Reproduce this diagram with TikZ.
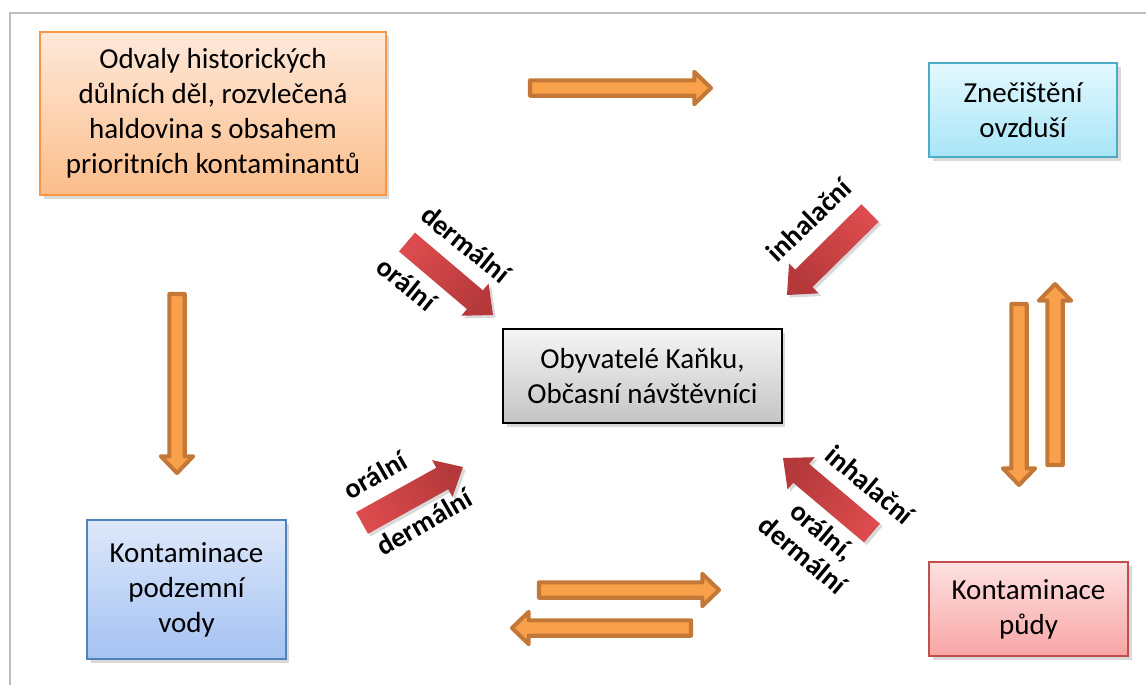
\documentclass[tikz,border=0pt]{standalone}
\usepackage{fontspec}
\setmainfont{Carlito}
\usetikzlibrary{calc,shadows}

\definecolor{framegray}{HTML}{BDBDBD}
\definecolor{orfill}{HTML}{F9A04A}
\definecolor{orline}{HTML}{C47838}
\definecolor{redhead}{HTML}{B5393B}
\definecolor{redtail}{HTML}{DC4B4D}
\definecolor{srctop}{HTML}{FEE9DA}
\definecolor{srcbot}{HTML}{FBBD8A}
\definecolor{srcline}{HTML}{F79646}
\definecolor{airtop}{HTML}{E3F8FE}
\definecolor{airbot}{HTML}{A8E5F7}
\definecolor{airline}{HTML}{4BACC6}
\definecolor{hubtop}{HTML}{F5F5F5}
\definecolor{hubbot}{HTML}{C4C4C4}
\definecolor{watertop}{HTML}{DEE8FA}
\definecolor{waterbot}{HTML}{A4C2F2}
\definecolor{waterline}{HTML}{4F81BD}
\definecolor{soiltop}{HTML}{FDE1E1}
\definecolor{soilbot}{HTML}{F8A5A5}
\definecolor{soilline}{HTML}{C0504D}

\tikzset{
  box/.style={draw, line width=0.9pt, align=center, inner sep=2pt,
    font=\fontsize{16.5}{20}\selectfont,
    drop shadow={opacity=0.3, shadow xshift=2pt, shadow yshift=-2.5pt}},
  flow/.style={draw=orline, fill=orfill, line width=2.3pt, line join=round},
  route/.style={top color=redhead, bottom color=redtail, draw=none,
    drop shadow={opacity=0.3, shadow xshift=1.5pt, shadow yshift=-1.5pt}},
  way/.style={font=\bfseries\fontsize{16}{18}\selectfont, align=center, inner sep=0pt}
}

% block arrow: [style]{from}{to}{shaft half}{head half}{head length}
\newcommand{\blockarrow}[6][]{%
  \coordinate (hb) at ($(#3)!#6!(#2)$);
  \path[#1] ($(#2)!#4!-90:(#3)$) -- ($(hb)!#4!-90:(#3)$) -- ($(hb)!#5!-90:(#3)$)
    -- (#3) -- ($(hb)!#5!90:(#3)$) -- ($(hb)!#4!90:(#3)$) -- ($(#2)!#4!90:(#3)$) -- cycle;
}

\begin{document}
\begin{tikzpicture}[x=0.02cm, y=-0.02cm]
  \useasboundingbox (0,0) rectangle (1146,684);
  \draw[framegray, line width=1.7pt] (10,700) -- (10,13) -- (1160,13);

  % boxes
  \node[box, draw=srcline, top color=srctop, bottom color=srcbot,
    minimum width=6.92cm, minimum height=3.26cm] (src) at (213,113.5)
    {Odvaly historických\\důlních děl, rozvlečená\\haldovina s obsahem\\prioritních kontaminantů};
  \node[box, draw=airline, top color=airtop, bottom color=airbot,
    minimum width=3.76cm, minimum height=1.88cm] (air) at (1023,110) {Znečištění\\ovzduší};
  \node[box, draw=black, top color=hubtop, bottom color=hubbot,
    minimum width=5.58cm, minimum height=1.88cm] (hub) at (642.5,376)
    {Obyvatelé Kaňku,\\Občasní návštěvníci};
  \node[box, draw=waterline, top color=watertop, bottom color=waterbot,
    minimum width=3.98cm, minimum height=2.78cm] (water) at (186.5,589.5)
    {Kontaminace\\podzemní\\vody};
  \node[box, draw=soilline, top color=soiltop, bottom color=soilbot,
    minimum width=3.98cm, minimum height=1.88cm] (soil) at (1028.5,609)
    {Kontaminace\\půdy};

  % transport between media
  \coordinate (srcA) at (530,88);    \coordinate (airA) at (711,88);
  \coordinate (srcB) at (177,294);   \coordinate (watB) at (177,473);
  \coordinate (airC) at (1019,304);  \coordinate (soilC) at (1019,485);
  \coordinate (soilD) at (1055,465); \coordinate (airD) at (1055,284);
  \coordinate (watE) at (539,590);   \coordinate (soilE) at (719,590);
  \coordinate (soilF) at (691,628);  \coordinate (watF) at (512,628);
  \blockarrow[flow]{srcA}{airA}{4.4pt}{9.2pt}{9.5pt}
  \blockarrow[flow]{srcB}{watB}{4.4pt}{9.2pt}{9.5pt}
  \blockarrow[flow]{airC}{soilC}{4.4pt}{9.2pt}{9.5pt}
  \blockarrow[flow]{soilD}{airD}{4.4pt}{9.2pt}{9.5pt}
  \blockarrow[flow]{watE}{soilE}{4.4pt}{9.2pt}{9.5pt}
  \blockarrow[flow]{soilF}{watF}{4.4pt}{9.2pt}{9.5pt}

  % exposure routes
  \coordinate (expA) at (407,242);  \coordinate (hubA) at (493,315);
  \coordinate (expB) at (870,213);  \coordinate (hubB) at (787,295);
  \coordinate (expC) at (362,523);  \coordinate (hubC) at (463,467);
  \coordinate (expD) at (872,533);  \coordinate (hubD) at (783,458);
  \blockarrow[route, shading angle=-129]{expA}{hubA}{7pt}{12pt}{13.5pt}
  \blockarrow[route, shading angle=135]{expB}{hubB}{7pt}{12pt}{13.5pt}
  \blockarrow[route, shading angle=-61]{expC}{hubC}{7pt}{12pt}{13.5pt}
  \blockarrow[route, shading angle=50]{expD}{hubD}{7pt}{12pt}{13.5pt}

  \node[way, rotate=-39] (derA) at (466,244) {dermální};
  \node[way, rotate=-39] (oraA) at (407,284) {orální};
  \node[way, rotate=44] (inhB) at (809,220) {inhalační};
  \node[way, rotate=30] (oraC) at (375,475) {orální};
  \node[way, rotate=30] (derC) at (424,522) {dermální};
  \node[way, rotate=-40] (inhD) at (870,485) {inhalační};
  \node[way, rotate=-40, font=\bfseries\fontsize{16}{17.6}\selectfont] (oraD) at (813,543) {orální,\\dermální};
\end{tikzpicture}
\end{document}
